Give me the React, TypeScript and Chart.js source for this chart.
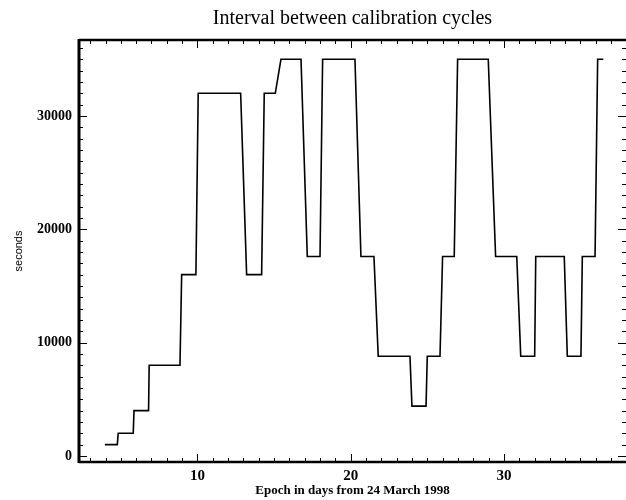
import React, { useEffect, useRef } from "react";
import { Chart, registerables } from "chart.js";

Chart.register(...registerables);

const chartTitle = "Interval between calibration cycles";
const xAxisTitle = "Epoch in days from 24 March 1998";
const yAxisTitle = "seconds";

const epochDays = [
  3.96, 4.77, 4.83, 5.81, 5.86, 6.81, 6.85, 8.86, 8.97, 9.9, 10.05, 12.82,
  13.21, 14.19, 14.36, 15.08, 15.45, 16.76, 17.17, 18.0, 18.17, 20.28, 20.67,
  21.52, 21.8, 23.87, 24.0, 24.92, 25.0, 25.83, 26.0, 26.76, 26.98, 28.98,
  29.46, 30.84, 31.1, 32.01, 32.08, 33.94, 34.14, 35.03, 35.12, 35.95, 36.12,
  36.49,
];
const intervalSeconds = [
  1000, 1000, 2000, 2000, 4000, 4000, 8000, 8000, 16000, 16000, 32000, 32000,
  16000, 16000, 32000, 32000, 35000, 35000, 17600, 17600, 35000, 35000, 17600,
  17600, 8800, 8800, 4400, 4400, 8800, 8800, 17600, 17600, 35000, 35000,
  17600, 17600, 8800, 8800, 17600, 17600, 8800, 8800, 17600, 17600, 35000,
  35000,
];

const xMajorTicks = [10, 20, 30];
const yMajorTicks = [0, 10000, 20000, 30000];
const xRange = [2.27, 37.97];
const yRange = [-530, 36700];
const xMinorStep = 1;
const yMinorStep = 1000;

const framePlugin = {
  id: "frame",
  afterDraw(chart: any) {
    const { ctx, chartArea } = chart;
    const xs = chart.scales.x;
    const ys = chart.scales.y;
    const { left, right, top, bottom } = chartArea;
    ctx.save();
    ctx.strokeStyle = "#000";
    ctx.lineCap = "butt";
    ctx.lineWidth = 1;
    ctx.beginPath();
    for (let d = Math.ceil(xRange[0]); d <= Math.floor(xRange[1]); d += xMinorStep) {
      const px = Math.round(xs.getPixelForValue(d)) + 0.5;
      const len = xMajorTicks.includes(d) ? 8 : 4;
      ctx.moveTo(px, bottom);
      ctx.lineTo(px, bottom - len);
      ctx.moveTo(px, top);
      ctx.lineTo(px, top + len);
    }
    for (let v = 0; v <= yRange[1]; v += yMinorStep) {
      const py = Math.round(ys.getPixelForValue(v)) + 0.5;
      const len = yMajorTicks.includes(v) ? 8 : 4;
      ctx.moveTo(left, py);
      ctx.lineTo(left + len, py);
      ctx.moveTo(right, py);
      ctx.lineTo(right - len, py);
    }
    ctx.stroke();
    ctx.lineWidth = 3;
    ctx.beginPath();
    ctx.moveTo(left, top - 1);
    ctx.lineTo(left, bottom + 1);
    ctx.stroke();
    ctx.lineWidth = 2.5;
    ctx.beginPath();
    ctx.moveTo(left, bottom);
    ctx.lineTo(right, bottom);
    ctx.moveTo(left, top);
    ctx.lineTo(right, top);
    ctx.stroke();
    ctx.restore();
  },
};

export default function App() {
  const canvasRef = useRef<HTMLCanvasElement | null>(null);

  useEffect(() => {
    if (!canvasRef.current) return;
    const points = epochDays.map((d, i) => ({ x: d, y: intervalSeconds[i] }));
    const chart = new Chart(canvasRef.current, {
      type: "line",
      data: {
        datasets: [
          {
            data: points,
            borderColor: "#000",
            borderWidth: 1.6,
            pointRadius: 0,
            tension: 0,
            fill: false,
          },
        ],
      },
      options: {
        animation: false,
        responsive: false,
        maintainAspectRatio: false,
        layout: { padding: { left: 0, right: 0, top: 0, bottom: 0 } },
        plugins: {
          legend: { display: false },
          tooltip: { enabled: false },
          title: {
            display: true,
            text: chartTitle,
            fullSize: false,
            color: "#000",
            font: { family: "'Liberation Serif', serif", size: 20, weight: "normal" },
            padding: { top: 7, bottom: 9 },
          },
        },
        scales: {
          x: {
            type: "linear",
            min: xRange[0],
            max: xRange[1],
            grid: { display: false, drawTicks: false },
            border: { display: false },
            afterBuildTicks: (scale: any) => {
              scale.ticks = xMajorTicks.map((v) => ({ value: v }));
            },
            afterFit: (scale: any) => {
              scale.height = 38;
            },
            ticks: {
              color: "#000",
              padding: 5,
              maxRotation: 0,
              autoSkip: false,
              font: { family: "'Liberation Serif', serif", size: 15, weight: "bold" },
            },
            title: {
              display: true,
              text: xAxisTitle,
              color: "#000",
              font: { family: "'Liberation Serif', serif", size: 13, weight: "bold" },
              padding: { top: 0, bottom: 1.5 },
            },
          },
          y: {
            type: "linear",
            min: yRange[0],
            max: yRange[1],
            grid: { display: false, drawTicks: false },
            border: { display: false },
            afterBuildTicks: (scale: any) => {
              scale.ticks = yMajorTicks.map((v) => ({ value: v }));
            },
            afterFit: (scale: any) => {
              scale.width = 79;
            },
            ticks: {
              color: "#000",
              padding: 7,
              autoSkip: false,
              font: { family: "'Liberation Serif', serif", size: 14, weight: "bold" },
              callback: (v: any) => String(v),
            },
            title: {
              display: true,
              text: yAxisTitle,
              color: "#000",
              font: { family: "'Liberation Sans', sans-serif", size: 11, weight: "normal" },
              padding: { top: 12, bottom: 12 },
            },
          },
        },
      },
      plugins: [framePlugin],
    });
    return () => chart.destroy();
  }, []);

  return (
    <div style={{ position: "absolute", left: 0, top: 0, width: 626, height: 500, background: "#fff" }}>
      <canvas ref={canvasRef} width={626} height={500} style={{ display: "block" }} />
    </div>
  );
}
